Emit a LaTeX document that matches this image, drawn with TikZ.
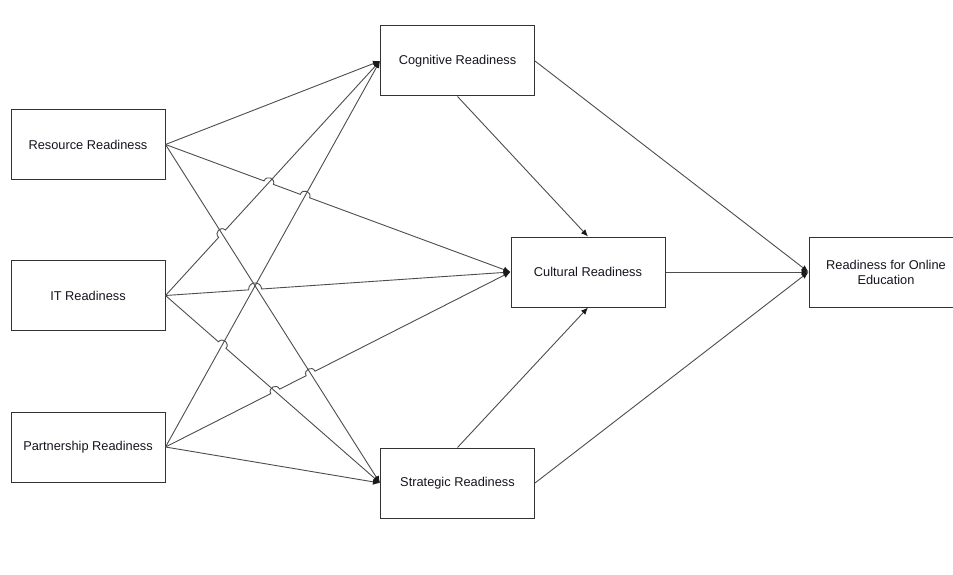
\documentclass[tikz,border=0pt]{standalone}
\usepackage{fontspec}
\setmainfont{Liberation Sans}
\usetikzlibrary{arrows.meta,calc}
\definecolor{linec}{HTML}{4D4D4D}
\definecolor{boxc}{HTML}{333333}
\definecolor{txtc}{HTML}{151520}
\begin{document}
\begin{tikzpicture}[x=1pt,y=-1pt,
  box/.style={draw=boxc,line width=1pt,fill=white,minimum width=154pt,minimum height=70pt,inner sep=0pt,align=center,font=\fontsize{12.8}{15}\selectfont,text=txtc},
  conn/.style={draw=linec,line width=0.9pt,-{Latex[length=7pt,width=6pt,color=black!90]}},
  jmp/.style={bend left=90,looseness=1.7}
]
\useasboundingbox (0,0) rectangle (953,575);
\clip (0,0) rectangle (953,575);
\fill[white] (0,0) rectangle (953,575);

\node[box] (res) at (88,144.5) {Resource Readiness};
\node[box] (it) at (88,295.5) {IT Readiness};
\node[box] (par) at (88,447) {Partnership Readiness};
\node[box] (cog) at (457.5,61) {Cognitive Readiness};
\node[box] (cul) at (588,272) {Cultural Readiness};
\node[box] (str) at (457.5,483) {Strategic Readiness};
\node[box] (onl) at (886,272) {Readiness for Online\\Education};

\coordinate (x1) at (intersection of res.east--cul.west and it.east--cog.west);
\coordinate (x2) at (intersection of res.east--cul.west and par.east--cog.west);
\coordinate (x3) at (intersection of it.east--cog.west and res.east--str.west);
\coordinate (x4a) at (intersection of it.east--cul.west and res.east--str.west);
\coordinate (x4b) at (intersection of it.east--cul.west and par.east--cog.west);
\coordinate (x4) at ($(x4a)!0.5!(x4b)$);
\coordinate (x5) at (intersection of it.east--str.west and par.east--cog.west);
\coordinate (x6) at (intersection of par.east--cul.west and res.east--str.west);
\coordinate (x7) at (intersection of par.east--cul.west and it.east--str.west);

% Resource
\draw[conn] (res.east) -- (cog.west);
\draw[conn] (res.east) -- ($(x1)!5pt!(res.east)$) to[jmp] ($(x1)!5pt!(cul.west)$)
  -- ($(x2)!5pt!(res.east)$) to[jmp] ($(x2)!5pt!(cul.west)$) -- (cul.west);
\draw[conn] (res.east) -- (str.west);
% IT
\draw[conn] (it.east) -- ($(x3)!5pt!(it.east)$) to[jmp] ($(x3)!5pt!(cog.west)$) -- (cog.west);
\draw[conn] (it.east) -- ($(x4)!6.5pt!(it.east)$) to[jmp] ($(x4)!6.5pt!(cul.west)$) -- (cul.west);
\draw[conn] (it.east) -- ($(x5)!5pt!(it.east)$) to[jmp] ($(x5)!5pt!(str.west)$) -- (str.west);
% Partnership
\draw[conn] (par.east) -- (cog.west);
\draw[conn] (par.east) -- ($(x7)!5pt!(par.east)$) to[jmp] ($(x7)!5pt!(cul.west)$)
  -- ($(x6)!5pt!(par.east)$) to[jmp] ($(x6)!5pt!(cul.west)$) -- (cul.west);
\draw[conn] (par.east) -- (str.west);
% Middle
\draw[conn] (cog.south) -- (cul.north);
\draw[conn] (str.north) -- (cul.south);
\draw[conn] (cog.east) -- (onl.west);
\draw[conn] (cul.east) -- (onl.west);
\draw[conn] (str.east) -- (onl.west);
\end{tikzpicture}
\end{document}
